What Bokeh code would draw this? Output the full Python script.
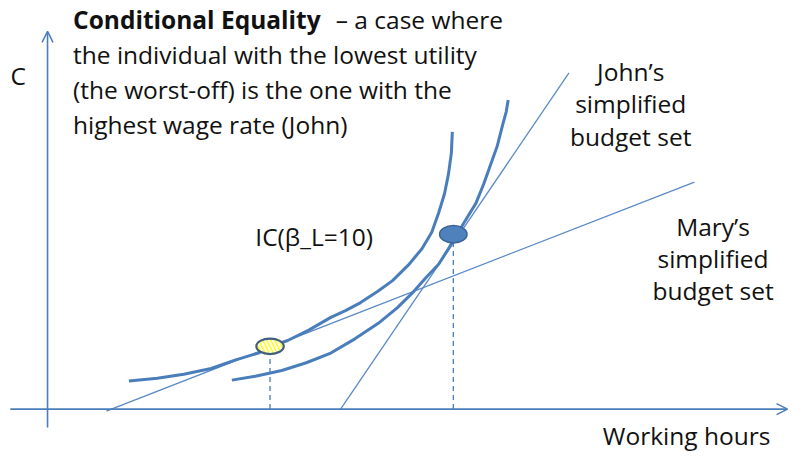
from bokeh.plotting import figure
from bokeh.models import Arrow, OpenHead, Range1d
from bokeh.core.properties import value
from bokeh.embed import file_html
from bokeh.resources import INLINE

# ---- data (diagram units: origin at the axes' crossing) ----
ic_upper_x = [83, 112, 139, 167, 192, 215, 228, 245, 267, 289, 304, 319, 337,
              352, 368, 382, 392, 399, 405, 409, 412, 413]
ic_upper_y = [29, 32, 36, 42, 51, 58, 65, 71, 82, 95, 102, 110, 122,
              133, 149, 166, 183, 203, 223, 243, 265, 287]
ic_lower_x = [188, 212, 239, 264, 289, 314, 339, 357, 372, 386, 399, 409, 419,
              428, 437, 445, 452, 459, 464, 468, 470]
ic_lower_y = [30, 34, 40, 48, 58, 73, 90, 105, 120, 136, 150, 166, 183,
              198, 213, 233, 253, 273, 293, 308, 320]

mary_budget_x = [60, 660]
mary_budget_y = [-2, 235]
john_budget_x = [299, 532]
john_budget_y = [0, 348]

mary_point = (227, 65)
john_point = (414, 181)

title_lines = ["the individual with the lowest utility",
               "(the worst-off) is the one with the",
               "highest wage rate (John)"]
title_bold = "Conditional  Equality"
title_rest = "\u2013 a case where"
john_label = ["John\u2019s", "simplified", "budget set"]
mary_label = ["Mary\u2019s", "simplified", "budget set"]
ic_label = "IC(\u03b2_L=10)"
x_label = "Working hours"
y_label = "C"

# ---- styling ----
BLUE = "#4a7ebb"
THIN = "#5a8ac6"
TXT = "#111111"
FONT = "Open Sans"
FS = "24.5px"

W, H = 789, 454
p = figure(width=W, height=H, output_backend="svg", toolbar_location=None,
           x_range=Range1d(-48, 757), y_range=Range1d(-47, 423),
           x_axis_type=None, y_axis_type=None, min_border=0)
p.outline_line_color = None
p.grid.visible = False

# axes with open arrow heads
p.add_layout(Arrow(end=OpenHead(size=11, line_color=BLUE, line_width=1.5),
                   x_start=-38, y_start=0, x_end=755, y_end=0,
                   line_color=BLUE, line_width=1.6))
p.add_layout(Arrow(end=OpenHead(size=11, line_color=BLUE, line_width=1.5),
                   x_start=0, y_start=-19, x_end=0, y_end=391,
                   line_color=BLUE, line_width=1.6))

# budget lines
p.line(mary_budget_x, mary_budget_y, line_color=THIN, line_width=1.3)
p.line(john_budget_x, john_budget_y, line_color=THIN, line_width=1.3)

# indifference curves
p.line(ic_upper_x, ic_upper_y, line_color=BLUE, line_width=3, line_join="round")
p.line(ic_lower_x, ic_lower_y, line_color=BLUE, line_width=3, line_join="round")

# dashed drop lines
p.segment(x0=[mary_point[0], john_point[0]], y0=[0, 0],
          x1=[mary_point[0], john_point[0]], y1=[mary_point[1], john_point[1]],
          line_color=BLUE, line_width=1.3, line_dash="5 4")

# points
p.ellipse(x=[mary_point[0]], y=[mary_point[1]], width=28, height=16,
          fill_color="#ffff00", line_color="#3f5f7f", line_width=2.2,
          hatch_pattern="\\", hatch_color="white", hatch_scale=8, hatch_weight=2.2)
p.ellipse(x=[john_point[0]], y=[john_point[1]], width=28, height=18,
          fill_color="#4f81bd", line_color="#3a6499", line_width=1.5)

# texts
common = dict(text_font=value(FONT), text_font_size=FS, text_color=TXT,
              text_baseline="middle")
p.text(x=[26], y=[403], text=[title_bold], text_font_style="bold", **common)
p.text(x=[294], y=[403], text=[title_rest], **common)
p.text(x=[26, 26, 26], y=[367, 331, 295], text=title_lines, **common)

p.text(x=[595, 595, 595], y=[350, 316, 282], text=john_label,
       text_align="center", **common)
p.text(x=[679, 679, 679], y=[189, 156, 123], text=mary_label,
       text_align="center", **common)
p.text(x=[272], y=[179], text=[ic_label], text_align="center", **common)
p.text(x=[652], y=[-27], text=[x_label], text_align="center", **common)
p.text(x=[-30], y=[345], text=[y_label], text_align="center", **common)

open("out.html", "w").write(file_html(p, INLINE))
